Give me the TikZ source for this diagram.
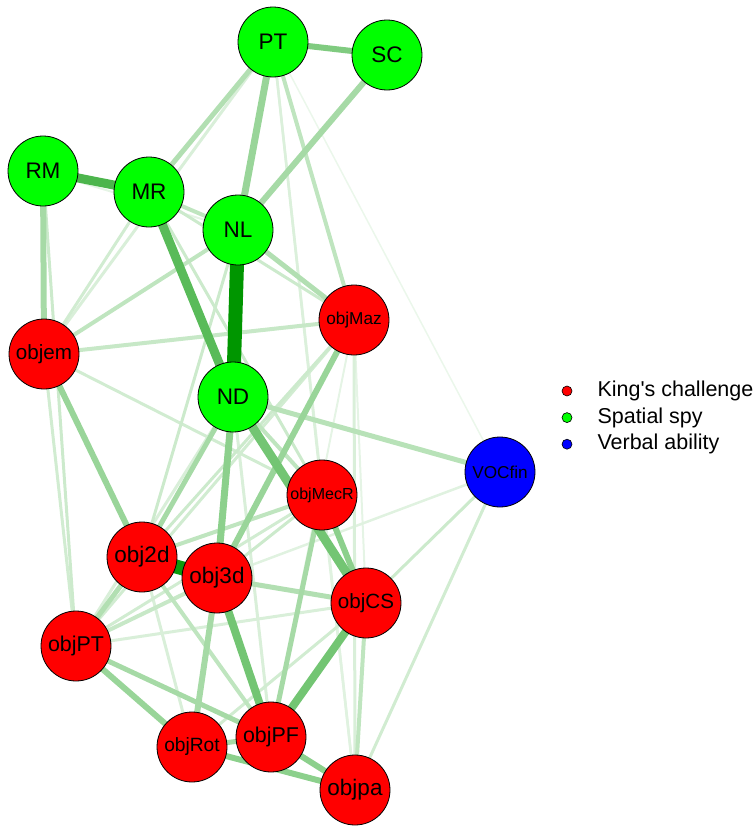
\documentclass[tikz,border=0pt]{standalone}
\usepackage{fontspec}
\setmainfont{Liberation Sans}[Ligatures=TeXOff]
\usetikzlibrary{positioning}
\pgfdeclarelayer{background}
\pgfsetlayers{background,main}
\definecolor{kcred}{RGB}{255,0,0}
\definecolor{ssgreen}{RGB}{0,255,0}
\definecolor{vablue}{RGB}{0,0,255}
\definecolor{edgegreen}{RGB}{0,150,0}

\begin{document}
\begin{tikzpicture}[x=1pt,y=-1pt,
  var/.style={circle, draw=black, line width=0.8pt, minimum size=70pt, inner sep=0pt},
  kc/.style={var, fill=kcred},
  ss/.style={var, fill=ssgreen},
  va/.style={var, fill=vablue},
  fsz/.style={font=\fontsize{#1}{#1}\selectfont},
  wt/.style 2 args={draw=edgegreen!#2!white, line width=#1pt},
  legdot/.style={circle, draw=black, line width=0.6pt, minimum size=10pt, inner sep=0pt},
  legtext/.style={inner sep=0pt, anchor=west, fsz=21.5}]
    \useasboundingbox (0,0) rectangle (755,827);
    % spatial spy
    \node[ss, fsz=22.5] (PT) at (273,42) {PT};
    \node[ss, fsz=22.5] (SC) at (387,55) {SC};
    \node[ss, fsz=22.5] (RM) at (43,171) {RM};
    \node[ss, fsz=22.5] (MR) at (149,192) {MR};
    \node[ss, fsz=22.5] (NL) at (238,230) {NL};
    \node[ss, fsz=22.5] (ND) at (233,397) {ND};
    % king's challenge
    \node[kc, fsz=17.2] (objMaz) at (354,320) {objMaz};
    \node[kc, fsz=20.6] (objem) at (44,354) {objem};
    \node[kc, fsz=16] (objMecR) at (322,495) {objMecR};
    \node[kc, fsz=22.5] (obj2d) at (142,557) {obj2d};
    \node[kc, fsz=22.5] (obj3d) at (217,578) {obj3d};
    \node[kc, fsz=20.6] (objCS) at (366,603) {objCS};
    \node[kc, fsz=21.4] (objPT) at (76,646) {objPT};
    \node[kc, fsz=21.4] (objPF) at (271,737) {objPF};
    \node[kc, fsz=19.2] (objRot) at (192,747) {objRot};
    \node[kc, fsz=22.5] (objpa) at (355,790) {objpa};
    % verbal ability
    \node[va, fsz=17.2] (VOCfin) at (500,472) {VOCfin};

    \begin{pgfonlayer}{background}
    \foreach \a/\b/\w/\c in {PT/VOCfin/1.5/8, RM/NL/2/10, objMaz/objCS/2/10, objMaz/objPF/2/10,
      PT/objpa/2.5/12, objMecR/objpa/2.5/12, VOCfin/obj3d/2.5/12, PT/objMecR/2.5/14,
      PT/objem/3/15, ND/objPF/3/15, objPT/objCS/3/15, obj2d/objRot/3/15, objMaz/objpa/3/15,
      ND/objPT/3/15, MR/objem/3/18, objem/objMecR/3/18, objem/objPT/3/18, objMaz/objPT/3/18,
      objMecR/objPT/3/18, objCS/objRot/3/18, VOCfin/objpa/3/18, MR/objMaz/3/20, RM/objPT/3/20,
      NL/obj2d/3/20, MR/objMecR/3/20, objMaz/obj2d/3/20, objMecR/obj3d/3/20, VOCfin/objCS/3/20,
      objem/objMaz/4/22, objPT/obj3d/4/22, MR/NL/4/25, objem/NL/4/25, PT/objMaz/4/25,
      ND/objMecR/4/25, objMecR/obj2d/4/25, objCS/objpa/4/25, obj2d/objPF/4/25,
      ND/VOCfin/5/28, PT/MR/5/30, NL/objMaz/5/30, objPT/obj2d/5/30, obj3d/objCS/5/30,
      ND/obj2d/5/35, SC/NL/6/35, RM/objem/6/35, objPT/objPF/5/35, obj3d/objRot/6/35,
      objRot/objPF/5/35, objMecR/objPF/5/35, PT/NL/7/40, objem/obj2d/6/40, objMaz/obj3d/6/40,
      objPT/objRot/6/40, objMecR/objCS/6/45, ND/obj3d/7/45, objRot/objpa/6/45, objPF/objpa/6/45,
      PT/SC/6/50, ND/objCS/9/55, objCS/objPF/8/55, obj3d/objPF/8/55, MR/ND/9/65, RM/MR/9/70,
      obj2d/obj3d/14/95, NL/ND/14/100}
      \draw[wt={\w}{\c}] (\a.center) -- (\b.center);
    \end{pgfonlayer}

    % legend
    \node[legdot, fill=kcred] (kcdot) at (567,391) {};
    \node[legdot, fill=ssgreen, below=16pt of kcdot] (ssdot) {};
    \node[legdot, fill=vablue, below=16pt of ssdot] (vadot) {};
    \node[legtext, right=25pt of kcdot] (kctext) {King's challenge};
    \node[legtext, right=25pt of ssdot] (sstext) {Spatial spy};
    \node[legtext, right=25pt of vadot] (vatext) {Verbal ability};
\end{tikzpicture}
\end{document}
